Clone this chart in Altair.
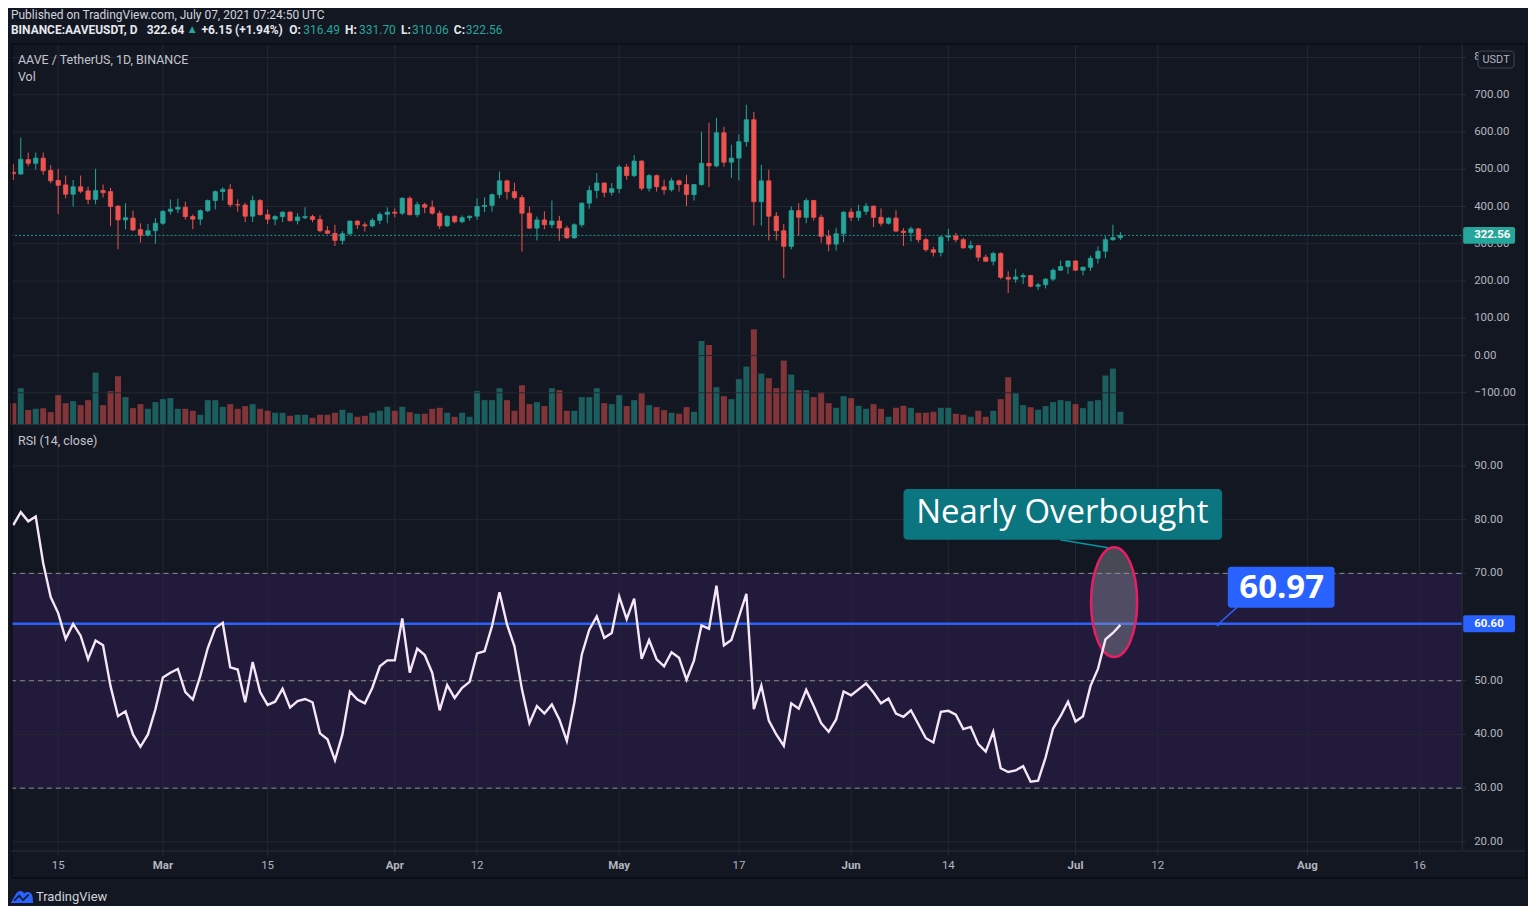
import altair as alt
import pandas as pd

BG = "#131722"
GREEN = "#26a69a"
RED = "#ef5350"
GRID = "#232733"
AXIS_LINE = "#2a2e39"
AXIS_TXT = "#b2b5be"
FONT = "Roboto"

TOTAL_W = 1520
PLOT_R = 1455       # plot area width
VIEW_H = 809        # price pane + RSI pane height

# ---------------- data ----------------
n_days = 149
dates = [d.strftime("%Y-%m-%dT00:00:00Z") for d in pd.date_range("2021-02-09", periods=n_days, freq="D")]

opens = [492, 487, 526, 516, 530, 497, 470, 458, 433, 453, 442, 419, 443, 440, 401, 364, 369, 338, 323, 335,
         355, 387, 393, 398, 373, 366, 389, 416, 440, 446, 405, 404, 374, 416, 378, 366, 373, 385, 362, 370,
         373, 365, 335, 328, 309, 327, 361, 351, 348, 363, 379, 385, 382, 422, 378, 405, 398, 382, 348, 374,
         359, 370, 374, 400, 403, 432, 469, 440, 424, 382, 342, 364, 351, 361, 342, 316, 351, 409, 443, 463,
         438, 448, 506, 483, 522, 449, 483, 453, 445, 469, 459, 432, 459, 516, 509, 598, 519, 530, 574, 633,
         413, 469, 374, 335, 293, 389, 371, 416, 371, 320, 299, 327, 385, 371, 387, 401, 371, 355, 369, 334,
         330, 340, 311, 284, 277, 318, 321, 311, 289, 295, 264, 253, 274, 210, 205, 211, 215, 186, 190, 205,
         229, 239, 254, 229, 237, 261, 280, 311, 316.49]
highs = [514, 585, 545, 545, 545, 511, 501, 483, 471, 483, 453, 501, 459, 450, 404, 409, 389, 355, 353, 369,
         391, 419, 421, 413, 379, 392, 419, 443, 452, 460, 419, 410, 429, 420, 392, 377, 387, 387, 382, 398,
         378, 376, 347, 351, 334, 362, 363, 358, 369, 385, 398, 395, 425, 427, 413, 410, 416, 389, 376, 376,
         376, 376, 422, 425, 435, 494, 472, 464, 431, 400, 373, 387, 416, 375, 348, 355, 411, 456, 490, 465,
         463, 512, 514, 538, 524, 487, 486, 472, 477, 472, 485, 461, 601, 625, 638, 614, 566, 594, 673, 654,
         512, 499, 385, 353, 400, 409, 422, 418, 378, 337, 343, 387, 395, 405, 410, 403, 395, 371, 390, 342,
         346, 343, 316, 292, 321, 340, 329, 316, 308, 297, 271, 279, 277, 226, 232, 221, 216, 195, 208, 234,
         255, 255, 255, 239, 268, 293, 320, 351, 331.70]
lows = [471, 486, 508, 499, 485, 462, 380, 422, 400, 436, 406, 406, 424, 347, 285, 339, 334, 303, 320, 300,
        351, 378, 382, 365, 339, 350, 385, 392, 416, 398, 386, 358, 358, 376, 353, 350, 358, 360, 352, 366,
        358, 331, 326, 294, 298, 322, 340, 333, 344, 353, 355, 371, 377, 376, 371, 382, 378, 340, 345, 355,
        355, 362, 364, 385, 386, 422, 419, 419, 279, 340, 309, 339, 342, 308, 313, 313, 344, 394, 422, 425,
        429, 436, 472, 479, 443, 440, 440, 432, 440, 440, 401, 416, 456, 452, 505, 507, 477, 470, 561, 349,
        349, 309, 309, 208, 285, 322, 355, 362, 303, 280, 282, 304, 361, 361, 377, 345, 347, 352, 331, 294,
        306, 303, 279, 266, 266, 307, 304, 287, 284, 253, 252, 242, 205, 168, 195, 192, 183, 176, 180, 200,
        227, 219, 227, 215, 227, 247, 261, 308, 310.06]
closes = [488, 527, 516, 530, 496, 469, 457, 433, 453, 441, 419, 443, 437, 400, 364, 370, 337, 323, 335, 355,
          387, 393, 398, 373, 366, 389, 416, 440, 446, 405, 404, 374, 416, 378, 366, 373, 385, 362, 372, 373,
          365, 335, 328, 309, 327, 361, 351, 348, 363, 379, 385, 382, 422, 378, 405, 398, 382, 348, 374, 359,
          370, 374, 400, 403, 432, 469, 440, 424, 382, 342, 364, 351, 361, 342, 316, 351, 409, 443, 463, 438,
          448, 506, 483, 522, 449, 483, 453, 445, 469, 459, 432, 459, 516, 509, 598, 519, 530, 574, 633, 413,
          469, 374, 335, 293, 389, 371, 416, 371, 320, 299, 327, 385, 371, 387, 401, 371, 355, 369, 334, 330,
          340, 311, 284, 277, 318, 321, 311, 289, 295, 264, 253, 274, 210, 205, 211, 215, 186, 190, 205, 229,
          239, 254, 229, 237, 261, 280, 311, 316.49, 322.56]
volumes = [63, 108, 42, 46, 48, 36, 87, 63, 69, 57, 72, 155, 57, 99, 144, 81, 48, 60, 46, 66,
           75, 78, 46, 46, 40, 28, 72, 72, 52, 60, 46, 54, 60, 46, 40, 34, 34, 25, 28, 28,
           19, 28, 28, 34, 43, 34, 22, 25, 34, 40, 52, 40, 52, 36, 31, 31, 46, 49, 34, 22,
           34, 22, 99, 72, 72, 108, 72, 40, 117, 60, 66, 54, 108, 102, 40, 40, 81, 81, 108, 63,
           60, 87, 54, 72, 93, 57, 51, 42, 34, 31, 51, 37, 250, 238, 111, 84, 75, 135, 173, 285,
           152, 138, 108, 191, 149, 102, 102, 81, 96, 63, 49, 84, 78, 55, 46, 60, 46, 22, 49, 55,
           49, 34, 34, 37, 49, 49, 31, 28, 22, 40, 22, 40, 75, 141, 93, 57, 51, 43, 54, 66,
           72, 69, 60, 48, 69, 72, 146, 167, 37]
rsi_values = [79.0, 81.4, 79.7, 80.6, 71.9, 65.6, 62.6, 57.8, 60.6, 58.4, 54.0, 57.5, 56.6, 49.0, 43.4, 44.3,
              40.0, 37.7, 40.0, 44.7, 50.6, 51.5, 52.2, 47.9, 46.5, 50.9, 56.1, 59.8, 60.8, 52.5, 52.1, 46.0,
              53.5, 47.9, 45.5, 46.1, 48.5, 45.0, 46.2, 46.6, 46.0, 40.2, 39.1, 35.2, 40.0, 48.0, 46.5, 45.8,
              48.7, 52.7, 53.8, 53.8, 61.6, 51.5, 56.0, 54.8, 51.5, 44.5, 49.2, 46.8, 48.7, 49.8, 55.1, 55.5,
              60.2, 66.5, 60.5, 56.4, 48.4, 42.1, 45.3, 43.9, 45.6, 42.8, 38.8, 45.9, 54.9, 59.5, 62.0, 58.0,
              58.9, 65.7, 61.5, 65.3, 54.1, 57.6, 54.0, 52.7, 55.3, 54.3, 50.2, 53.8, 60.3, 59.7, 67.7, 56.6,
              57.6, 61.9, 66.2, 44.7, 49.1, 42.6, 40.0, 37.9, 45.8, 44.8, 48.3, 45.3, 42.1, 40.5, 42.8, 48.0,
              47.3, 48.4, 49.5, 47.8, 45.8, 46.7, 43.9, 43.3, 44.5, 41.9, 39.3, 38.5, 44.2, 44.4, 43.7, 41.0,
              41.4, 38.2, 36.8, 40.5, 33.7, 33.0, 33.3, 34.1, 31.2, 31.4, 35.7, 41.1, 43.4, 46.1, 42.4, 43.4,
              49.0, 52.2, 57.7, 58.9, 60.4]

last_price = 322.56
rsi_line_level = 60.60
rsi_callout_value = "60.97"

time_ticks = ["2021-02-15", "2021-03-01", "2021-03-15", "2021-04-01", "2021-04-12", "2021-05-01",
              "2021-05-17", "2021-06-01", "2021-06-14", "2021-07-01", "2021-07-12", "2021-08-01", "2021-08-16"]
time_labels = ["15", "Mar", "15", "Apr", "12", "May", "17", "Jun", "14", "Jul", "12", "Aug", "16"]
price_ticks = [-100, 0, 100, 200, 300, 400, 500, 600, 700, 800]
rsi_ticks = [20, 30, 40, 50, 60, 70, 80, 90]
rsi_label_ticks = [20, 30, 40, 50, 70, 80, 90]   # 60.00 sits fully under the 60.60 tag
rsi_dashed = [30, 50, 70]

# annotations (in data coordinates)
ellipse_pos = {"date": "2021-07-06T03:50:00Z", "rsi": 64.65}
nb_box = {"x0": "2021-06-08T00:00:00Z", "x1": "2021-07-20T14:24:00Z", "y0": 76.26, "y1": 85.7}
nb_text = {"date": "2021-06-29T05:30:00Z", "rsi": 81.27, "label": "Nearly Overbought"}
nb_pointer = {"x0": "2021-06-28T23:00:00Z", "y0": 76.26, "x1": "2021-07-05T08:24:00Z", "y1": 74.77}
val_box = {"x0": "2021-07-21T08:38:00Z", "x1": "2021-08-04T15:07:00Z", "y0": 63.62, "y1": 71.24}
val_text = {"date": "2021-07-28T13:26:00Z", "rsi": 67.34, "label": rsi_callout_value}
val_pointer = {"x0": "2021-07-20T00:43:00Z", "y0": 60.47, "x1": "2021-07-22T16:34:00Z", "y1": 63.81}

# ---------------- tables ----------------
df = pd.DataFrame({"date": dates, "open": opens, "high": highs, "low": lows, "close": closes,
                   "vol": volumes, "rsi": rsi_values})
df["btop"] = df[["open", "close"]].max(axis=1)
df["bbot"] = df[["open", "close"]].min(axis=1)


def fmt2(v):
    return f"{v:.2f}".replace("-", "\u2212")


time_df = pd.DataFrame({"d": [s + "T00:00:00Z" for s in time_ticks], "lbl": time_labels,
                        "month": [s.endswith("-01") for s in time_ticks]})
price_df = pd.DataFrame({"p": price_ticks, "lbl": [fmt2(v) for v in price_ticks]})
rsi_tick_df = pd.DataFrame({"r": rsi_ticks})
rsi_lbl_df = pd.DataFrame({"r": rsi_label_ticks, "lbl": [fmt2(v) for v in rsi_label_ticks]})


def dt(y, m, d, hh=0, mm=0):
    return alt.DateTime(year=y, month=m, date=d, hours=hh, minutes=mm, utc=True)


x_scale = alt.Scale(type="utc", domain=[dt(2021, 2, 8, 16, 38), dt(2021, 8, 21, 16, 34)], nice=False, padding=0)
price_scale = alt.Scale(domain=[-184, 836], range=[381, 0], nice=False, zero=False, padding=0)
vol_scale = alt.Scale(domain=[0, 1143], range=[381, 0], nice=False, zero=False, padding=0)
rsi_scale = alt.Scale(domain=[18.3, 97.62], range=[VIEW_H, 382], nice=False, zero=False, padding=0)

updown = alt.condition("datum.close >= datum.open", alt.value(GREEN), alt.value(RED))
X = lambda f="date": alt.X(f"{f}:T", scale=x_scale, axis=None)
PY = lambda f: alt.Y(f, scale=price_scale, axis=None)
RY = lambda f: alt.Y(f, scale=rsi_scale, axis=None)
one = alt.Data(values=[{}])


def hline(y, x0, x1, color, w=1):
    return alt.Chart(one).mark_rule(color=color, strokeWidth=w).encode(
        x=alt.value(x0), x2=alt.value(x1), y=alt.value(y))


def vline(x, y0, y1, color, w=1):
    return alt.Chart(one).mark_rule(color=color, strokeWidth=w).encode(
        x=alt.value(x), y=alt.value(y0), y2=alt.value(y1))


def txt(s, x, y, color="#d1d4dc", size=12, weight="normal", align="left", font=FONT):
    return alt.Chart(one).mark_text(text=s, color=color, font=font, fontSize=size, fontWeight=weight,
                                    align=align, baseline="middle").encode(x=alt.value(x), y=alt.value(y))


# canvas extent markers (background-coloured, define the page bounds)
extent = [hline(-34.5, 0, TOTAL_W, BG), hline(858.5, 0, TOTAL_W, BG)]

# ---------------- RSI background band ----------------
rsi_band = alt.Chart(pd.DataFrame({"a": [30], "b": [70]})).mark_rect(color="#221a3b").encode(
    y=RY("a:Q"), y2="b:Q", x=alt.value(0), x2=alt.value(PLOT_R))

# ---------------- vertical grid + time axis ----------------
vgrid = alt.Chart(time_df).mark_rule(color=GRID, strokeWidth=1).encode(
    x=X("d"), y=alt.value(0), y2=alt.value(VIEW_H))
xticks = alt.Chart(time_df).mark_rule(color=AXIS_LINE, strokeWidth=1).encode(
    x=X("d"), y=alt.value(VIEW_H), y2=alt.value(VIEW_H + 4))
xlabels_day = alt.Chart(time_df).transform_filter("!datum.month").mark_text(
    color=AXIS_TXT, font=FONT, fontSize=11.5, baseline="middle", align="center").encode(
    x=X("d"), y=alt.value(VIEW_H + 15), text="lbl:N")
xlabels_month = alt.Chart(time_df).transform_filter("datum.month").mark_text(
    color=AXIS_TXT, font=FONT, fontSize=11.5, fontWeight="bold", baseline="middle", align="center").encode(
    x=X("d"), y=alt.value(VIEW_H + 15), text="lbl:N")
time_axis = alt.layer(vgrid, xticks, xlabels_day, xlabels_month)

# ---------------- price pane ----------------
pgrid = alt.Chart(price_df).mark_rule(color=GRID).encode(
    y=PY("p:Q"), x=alt.value(0), x2=alt.value(PLOT_R))
pticks = alt.Chart(price_df).mark_rule(color=AXIS_LINE).encode(
    y=PY("p:Q"), x=alt.value(PLOT_R), x2=alt.value(PLOT_R + 4))
plabels = alt.Chart(price_df).mark_text(color=AXIS_TXT, font=FONT, fontSize=11.5, align="left",
                                        baseline="middle").encode(
    y=PY("p:Q"), x=alt.value(PLOT_R + 12), text="lbl:N")
vol_bars = alt.Chart(df).mark_bar(size=6, opacity=0.5).encode(
    x=X(), y=alt.Y("vol:Q", scale=vol_scale, axis=None, stack=None), color=updown)
wicks = alt.Chart(df).mark_rule(strokeWidth=1).encode(
    x=X(), y=PY("low:Q"), y2="high:Q", color=updown)
bodies = alt.Chart(df).mark_bar(size=4.4, strokeWidth=0.7).encode(
    x=X(), y=PY("btop:Q"), y2="bbot:Q", color=updown, stroke=updown)
last_df = pd.DataFrame({"p": [last_price], "t": [fmt2(last_price)]})
last_line = alt.Chart(last_df).mark_rule(color=GREEN, strokeDash=[2, 2], strokeWidth=1, opacity=0.9).encode(
    y=PY("p:Q"), x=alt.value(0), x2=alt.value(PLOT_R))
last_tag = alt.Chart(last_df).mark_rect(color=GREEN, yOffset=-8.5, y2Offset=8.5, cornerRadius=2).encode(
    y=PY("p:Q"), y2="p:Q", x=alt.value(PLOT_R + 1), x2=alt.value(PLOT_R + 53))
last_txt = alt.Chart(last_df).mark_text(color="white", font=FONT, fontSize=11.5, fontWeight="bold",
                                         align="left", baseline="middle").encode(
    y=PY("p:Q"), x=alt.value(PLOT_R + 12), text="t:N")
price_group = alt.layer(pgrid, pticks, plabels, last_line, wicks, bodies, last_tag, last_txt)

# ---------------- RSI pane ----------------
rgrid = alt.Chart(rsi_tick_df).mark_rule(color=GRID).encode(
    y=RY("r:Q"), x=alt.value(0), x2=alt.value(PLOT_R))
rticks = alt.Chart(rsi_tick_df).mark_rule(color=AXIS_LINE).encode(
    y=RY("r:Q"), x=alt.value(PLOT_R), x2=alt.value(PLOT_R + 4))
rlabels = alt.Chart(rsi_lbl_df).mark_text(color=AXIS_TXT, font=FONT, fontSize=11.5, align="left",
                                          baseline="middle").encode(
    y=RY("r:Q"), x=alt.value(PLOT_R + 12), text="lbl:N")
rdash = alt.Chart(pd.DataFrame({"r": rsi_dashed})).mark_rule(color="#8a8d96", strokeDash=[5, 4], strokeWidth=1).encode(
    y=RY("r:Q"), x=alt.value(0), x2=alt.value(PLOT_R))
lvl_df = pd.DataFrame({"r": [rsi_line_level], "t": [fmt2(rsi_line_level)]})
blue_line = alt.Chart(lvl_df).mark_rule(color="#2962ff", strokeWidth=2.5).encode(
    y=RY("r:Q"), x=alt.value(0), x2=alt.value(PLOT_R))
ellipse = alt.Chart(pd.DataFrame([ellipse_pos])).mark_point(
    shape="M0,-1 A0.42,1 0 1,1 0,1 A0.42,1 0 1,1 0,-1 Z", size=12100, filled=True,
    fill="#9598a1", fillOpacity=0.4, stroke="#e91e63", strokeWidth=2.5, strokeOpacity=1, opacity=1).encode(
    x=X(), y=RY("rsi:Q"))
rsi_line = alt.Chart(df).mark_line(color="#f6e7f8", strokeWidth=2.4).encode(
    x=X(), y=RY("rsi:Q"))

nb_ptr = alt.Chart(pd.DataFrame([nb_pointer])).mark_rule(color="#0097a7", strokeWidth=1.5).encode(
    x=X("x0"), x2="x1:T", y=RY("y0:Q"), y2="y1:Q")
nb_rect = alt.Chart(pd.DataFrame([nb_box])).mark_rect(color="#0b7580", cornerRadius=4).encode(
    x=X("x0"), x2="x1:T", y=RY("y0:Q"), y2="y1:Q")
nb_label = alt.Chart(pd.DataFrame([nb_text])).mark_text(color="white", font="Open Sans", fontSize=33,
                                                        baseline="middle", align="center").encode(
    x=X(), y=RY("rsi:Q"), text="label:N")

val_ptr = alt.Chart(pd.DataFrame([val_pointer])).mark_rule(color="#2962ff", strokeWidth=1.5).encode(
    x=X("x0"), x2="x1:T", y=RY("y0:Q"), y2="y1:Q")
val_dot = alt.Chart(pd.DataFrame([val_pointer])).mark_point(color="#2962ff", filled=True, size=12, opacity=1).encode(
    x=X("x0"), y=RY("y0:Q"))
val_rect = alt.Chart(pd.DataFrame([val_box])).mark_rect(color="#2962ff", cornerRadius=3).encode(
    x=X("x0"), x2="x1:T", y=RY("y0:Q"), y2="y1:Q")
val_label = alt.Chart(pd.DataFrame([val_text])).mark_text(color="white", font="Open Sans", fontSize=33,
                                                          fontWeight="bold", baseline="middle", align="center").encode(
    x=X(), y=RY("rsi:Q"), text="label:N")

lvl_tag = alt.Chart(lvl_df).mark_rect(color="#2962ff", yOffset=-8.5, y2Offset=8.5, cornerRadius=2).encode(
    y=RY("r:Q"), y2="r:Q", x=alt.value(PLOT_R + 1), x2=alt.value(PLOT_R + 53))
lvl_txt = alt.Chart(lvl_df).mark_text(color="white", font=FONT, fontSize=11.5, fontWeight="bold",
                                       align="left", baseline="middle").encode(
    y=RY("r:Q"), x=alt.value(PLOT_R + 12), text="t:N")

rsi_group = alt.layer(rgrid, rticks, rlabels, rdash, blue_line, ellipse, rsi_line, nb_ptr, nb_rect, nb_label,
                      val_ptr, val_dot, val_rect, val_label, lvl_tag, lvl_txt)

# ---------------- static frame and texts ----------------
FRAME = "#0b0d13"
frame = [
    hline(0, 0, TOTAL_W, FRAME, 1.5), hline(836, 0, TOTAL_W, FRAME, 1.5),
    vline(0.75, 0, 836, FRAME, 1.5), vline(TOTAL_W - 0.75, 0, 836, FRAME, 1.5),
    hline(381.5, 0, TOTAL_W, AXIS_LINE, 1),
    hline(VIEW_H, 0, TOTAL_W - 1.5, AXIS_LINE, 1),
    vline(PLOT_R, 0, VIEW_H, AXIS_LINE, 1),
]

WHITE = "#e6e8ee"
L1, L2 = -29, -14
header = [
    txt("Published on TradingView.com, July 07, 2021 07:24:50 UTC", 0, L1, "#d1d4dc", 12),
    txt("BINANCE:AAVEUSDT, D", 0, L2, WHITE, 12, "bold"),
    txt("322.64", 136, L2, WHITE, 12, "bold"),
    txt("▲", 176, L2, GREEN, 11.5),
    txt("+6.15 (+1.94%)", 191, L2, WHITE, 12, "bold"),
    txt("O:", 279, L2, WHITE, 12, "bold"), txt("316.49", 293, L2, GREEN, 12),
    txt("H:", 335, L2, WHITE, 12, "bold"), txt("331.70", 349, L2, GREEN, 12),
    txt("L:", 391, L2, WHITE, 12, "bold"), txt("310.06", 402, L2, GREEN, 12),
    txt("C:", 444, L2, WHITE, 12, "bold"), txt("322.56", 456, L2, GREEN, 12),
    txt("AAVE / TetherUS, 1D, BINANCE", 7, 16, "#c3c6ce", 12.5),
    txt("Vol", 7, 33, "#c3c6ce", 12.5),
    txt("RSI (14, close)", 7, 398, "#c3c6ce", 12.5),
]

usdt_box = alt.Chart(one).mark_rect(fill=BG, stroke="#434651", strokeWidth=1, cornerRadius=3).encode(
    x=alt.value(1471), x2=alt.value(1507), y=alt.value(7), y2=alt.value(24))
usdt_txt = txt("USDT", 1489, 15.5, AXIS_TXT, 11, align="center")

FY = 855
logo = alt.Chart(one).mark_point(
    shape="M-1,0.55 L-0.55,-0.25 C-0.35,-0.6 0.05,-0.6 0.2,-0.3 C0.45,-0.55 0.9,-0.45 0.95,0 L1,0.55 Z",
    size=500, filled=True, color="#2962ff", opacity=1).encode(x=alt.value(11), y=alt.value(FY))
logo_zig = alt.Chart(one).mark_point(
    shape="M-0.7,0.35 L-0.25,-0.1 L0.1,0.3 L0.6,-0.2", size=500, filled=False, color=BG,
    strokeWidth=1.6, opacity=1).encode(x=alt.value(11), y=alt.value(FY))
footer = [logo, logo_zig, txt("TradingView", 25, FY, "#d1d4dc", 13)]

chart = alt.layer(
    *extent, rsi_band, time_axis, vol_bars, price_group, rsi_group, *frame, *header,
    usdt_box, usdt_txt, *footer
).resolve_scale(y="independent").properties(
    width=PLOT_R, height=VIEW_H, background=BG, padding=0
).configure_view(stroke=None)

chart.save("out.html", embed_options={"renderer": "svg", "actions": False})
